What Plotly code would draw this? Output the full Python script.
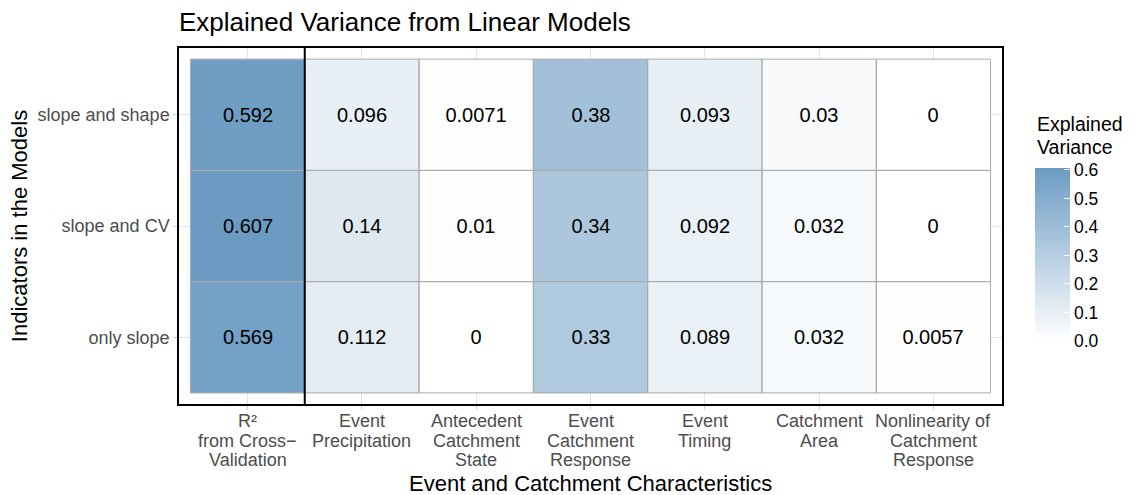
import plotly.graph_objects as go

# ---- data ----
columns = [
    ["R²", "from Cross−", "Validation"],
    ["Event", "Precipitation"],
    ["Antecedent", "Catchment", "State"],
    ["Event", "Catchment", "Response"],
    ["Event", "Timing"],
    ["Catchment", "Area"],
    ["Nonlinearity of", "Catchment", "Response"],
]
rows = ["only slope", "slope and CV", "slope and shape"]
vals_only_slope = [0.569, 0.112, 0, 0.33, 0.089, 0.032, 0.0057]
vals_slope_cv = [0.607, 0.14, 0.01, 0.34, 0.092, 0.032, 0]
vals_slope_shape = [0.592, 0.096, 0.0071, 0.38, 0.093, 0.03, 0]
labels_only_slope = ["0.569", "0.112", "0", "0.33", "0.089", "0.032", "0.0057"]
labels_slope_cv = ["0.607", "0.14", "0.01", "0.34", "0.092", "0.032", "0"]
labels_slope_shape = ["0.592", "0.096", "0.0071", "0.38", "0.093", "0.03", "0"]
cbar_ticks = [0.0, 0.1, 0.2, 0.3, 0.4, 0.5, 0.6]

z = [vals_only_slope, vals_slope_cv, vals_slope_shape]
txt = [labels_only_slope, labels_slope_cv, labels_slope_shape]
nx, ny = len(columns), len(rows)
zmax = max(max(r) for r in z)

FONT = "Liberation Sans, Arial, sans-serif"
TICKC = "#4d4d4d"
GRID = "#e3e3e3"

fig = go.Figure()
fig.add_trace(go.Heatmap(
    z=z, x=list(range(nx)), y=list(range(ny)),
    text=txt, texttemplate="%{text}",
    textfont=dict(size=20, color="black", family=FONT),
    colorscale=[[0, "rgb(255,255,255)"], [1, "rgb(107,155,195)"]],
    zmin=0, zmax=zmax,
    hoverongaps=False,
    colorbar=dict(
        thickness=35, lenmode="pixels", len=173,
        x=1.040, xanchor="left", xpad=0,
        y=0.42, yanchor="middle", ypad=0,
        outlinewidth=0,
        tickvals=cbar_ticks, ticktext=[f"{t:.1f}" for t in cbar_ticks],
        ticks="inside", ticklen=6, tickcolor="white", tickwidth=1,
        tickfont=dict(size=17.5, color="black", family=FONT),
    ),
))

# tile outlines
shapes = []
for j in range(ny):
    for i in range(nx):
        shapes.append(dict(type="rect", xref="x", yref="y",
                           x0=i - 0.5, x1=i + 0.5, y0=j - 0.5, y1=j + 0.5,
                           line=dict(color="#ababab", width=1), layer="above"))
# separator after first column
shapes.append(dict(type="line", xref="x", yref="paper", x0=0.5, x1=0.5, y0=0, y1=1,
                   line=dict(color="black", width=2), layer="above"))

annotations = []
# x tick labels, line by line
for i, lines in enumerate(columns):
    for k, ln in enumerate(lines):
        annotations.append(dict(text=ln, x=i, xref="x", y=0, yref="paper",
                                xanchor="center", yanchor="middle",
                                yshift=-(17 + k * 19.5), showarrow=False,
                                font=dict(size=18, color=TICKC, family=FONT)))
# x axis title
annotations.append(dict(text="Event and Catchment Characteristics", x=0.5, xref="paper",
                        y=-0.222, yref="paper", xanchor="center", yanchor="middle",
                        showarrow=False, font=dict(size=22, color="black", family=FONT)))
# legend title
for k, ln in enumerate(["Explained", "Variance"]):
    annotations.append(dict(text=ln, x=1.040, xref="paper", y=0.7867 - k * 0.0646, yref="paper",
                            xanchor="left", yanchor="middle", showarrow=False,
                            font=dict(size=19.5, color="black", family=FONT)))

fig.update_layout(
    width=1135, height=495,
    margin=dict(l=179, r=133, t=48, b=91),
    paper_bgcolor="white", plot_bgcolor="white",
    font=dict(family=FONT),
    title=dict(text="Explained Variance from Linear Models", x=0, xref="paper", xanchor="left",
               y=1 - 22 / 495, yref="container", yanchor="middle",
               font=dict(size=26, color="black", family=FONT)),
    shapes=shapes, annotations=annotations,
)
fig.update_xaxes(range=[-0.6, nx - 0.4], tickvals=list(range(nx)), showticklabels=False,
                 showgrid=True, gridcolor=GRID, gridwidth=1, zeroline=False,
                 ticks="outside", ticklen=4, tickcolor="#d0d0d0",
                 showline=True, mirror=True, linecolor="black", linewidth=1.5)
fig.update_yaxes(range=[-0.6, ny - 0.4], tickvals=list(range(ny)), ticktext=rows,
                 tickfont=dict(size=18, color=TICKC, family=FONT),
                 showgrid=True, gridcolor=GRID, gridwidth=1, zeroline=False,
                 ticks="outside", ticklen=4, tickcolor="#d0d0d0",
                 showline=True, mirror=True, linecolor="black", linewidth=1.5,
                 title=dict(text="Indicators in the Models", standoff=4,
                            font=dict(size=22, color="black", family=FONT)))

fig.write_html("out.html")
